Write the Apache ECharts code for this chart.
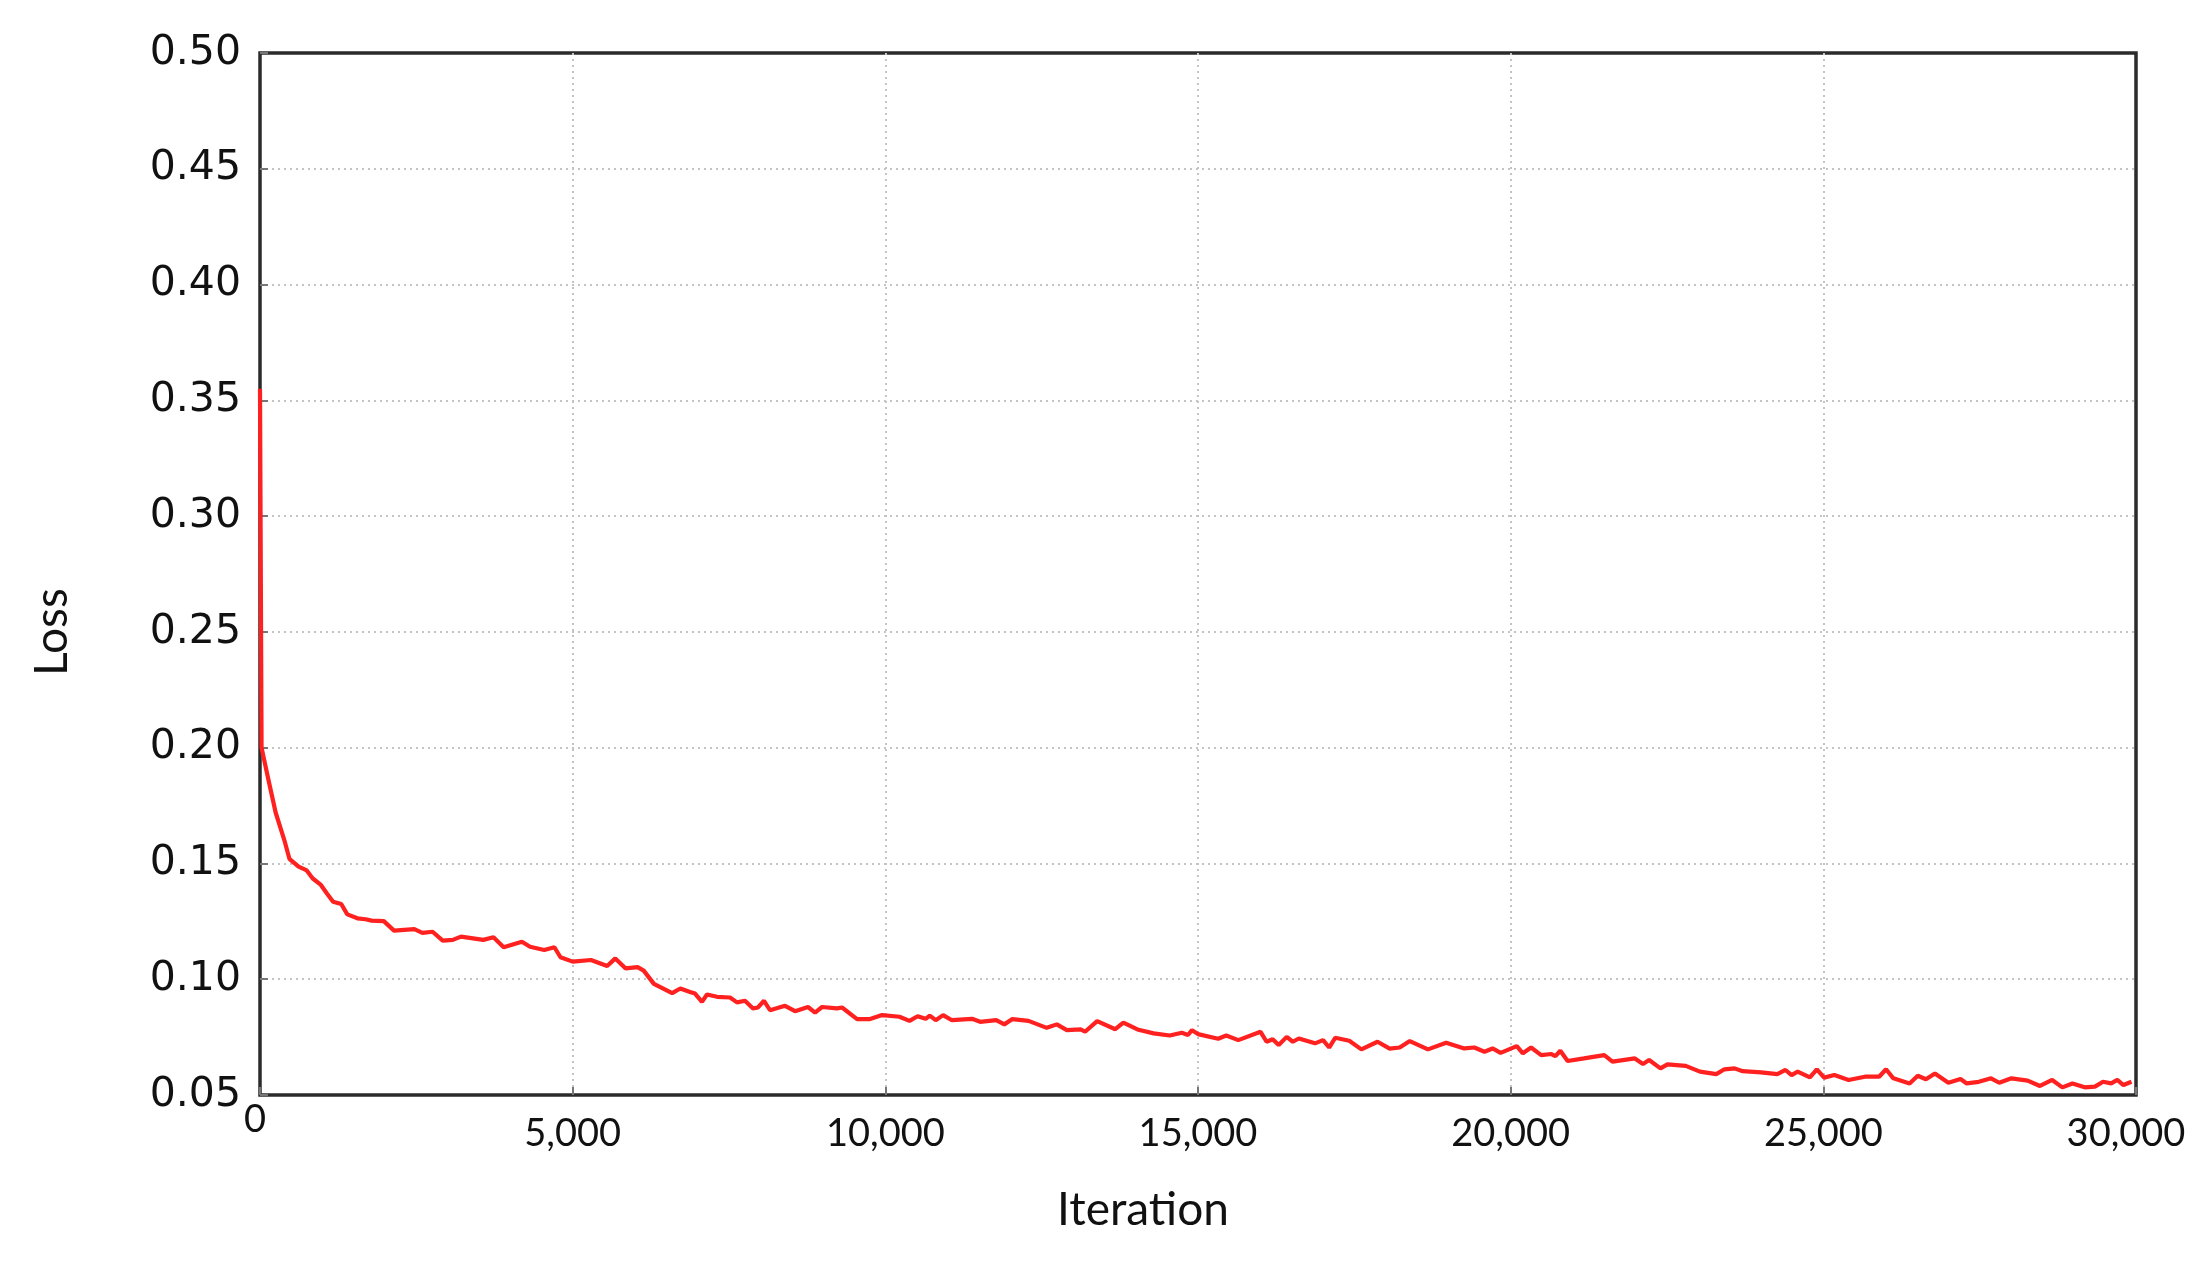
<!DOCTYPE html>
<html>
<head>
<meta charset="utf-8">
<title>Loss vs Iteration</title>
<script src="https://cdn.jsdelivr.net/npm/echarts@6/dist/echarts.min.js"></script>
<style>
  html, body { margin: 0; padding: 0; background: #fff; }
  #chart { width: 2201px; height: 1265px; }
</style>
</head>
<body>
<div id="chart"></div>
<script>
// values
const iterations = [
  0, 25, 120, 250, 390, 470, 617, 747, 844, 974,
  1070, 1169, 1299, 1396, 1558, 1688, 1785, 1980, 2143, 2468,
  2597, 2760, 2922, 3084, 3214, 3571, 3734, 3896, 4188, 4318,
  4545, 4708, 4805, 5000, 5292, 5552, 5682, 5844, 6039, 6136,
  6299, 6591, 6721, 6877, 6957, 7068, 7148, 7308, 7516, 7628,
  7756, 7884, 7964, 8060, 8156, 8396, 8556, 8764, 8876, 8988,
  9228, 9308, 9548, 9756, 9948, 10226, 10387, 10516, 10645, 10710,
  10806, 10923, 11065, 11387, 11516, 11774, 11903, 12032, 12290, 12581,
  12742, 12903, 13129, 13194, 13387, 13677, 13806, 14032, 14290, 14548,
  14742, 14839, 14903, 15000, 15323, 15452, 15645, 16000, 16097, 16194,
  16290, 16419, 16516, 16613, 16871, 17000, 17097, 17194, 17419, 17613,
  17871, 18065, 18226, 18387, 18677, 18968, 19258, 19419, 19581, 19710,
  19839, 20098, 20195, 20326, 20488, 20651, 20716, 20794, 20911, 21172,
  21497, 21628, 21986, 22116, 22214, 22396, 22507, 22800, 23027, 23288,
  23418, 23581, 23711, 24004, 24264, 24395, 24492, 24590, 24785, 24896,
  25013, 25176, 25404, 25664, 25892, 26003, 26120, 26380, 26510, 26641,
  26784, 27000, 27194, 27292, 27487, 27682, 27813, 28008, 28268, 28464,
  28659, 28822, 28984, 29180, 29343, 29473, 29603, 29701, 29798, 29928
];

const loss = [
  0.355, 0.200, 0.188, 0.172, 0.160, 0.152, 0.1486, 0.147, 0.1435, 0.1407,
  0.137, 0.1335, 0.1325, 0.128, 0.1263, 0.1259, 0.1253, 0.1251, 0.121, 0.1216,
  0.120, 0.1205, 0.1167, 0.117, 0.1184, 0.117, 0.1181, 0.1138, 0.1162, 0.114,
  0.1126, 0.1138, 0.1095, 0.1076, 0.1083, 0.1057, 0.109, 0.1047, 0.1052, 0.1037,
  0.098, 0.094, 0.096, 0.0945, 0.0938, 0.0902, 0.0934, 0.0924, 0.0921, 0.090,
  0.0907, 0.0874, 0.0878, 0.0907, 0.0866, 0.0885, 0.0862, 0.088, 0.0856, 0.088,
  0.0874, 0.0878, 0.0828, 0.0828, 0.0845, 0.0838, 0.082, 0.084, 0.0829, 0.0843,
  0.0823, 0.0845, 0.0823, 0.0829, 0.0816, 0.0823, 0.0805, 0.0828, 0.082, 0.079,
  0.0805, 0.078, 0.0783, 0.0773, 0.0819, 0.0784, 0.0813, 0.0783, 0.0766, 0.0757,
  0.0769, 0.0759, 0.078, 0.0763, 0.0743, 0.0757, 0.0737, 0.0773, 0.073, 0.0741,
  0.0716, 0.0751, 0.073, 0.0744, 0.0723, 0.0737, 0.0705, 0.0747, 0.0734, 0.0697,
  0.073, 0.070, 0.0705, 0.0733, 0.0697, 0.0726, 0.0701, 0.0705, 0.0687, 0.0701,
  0.0682, 0.0711, 0.068, 0.0705, 0.0672, 0.0677, 0.0668, 0.0691, 0.0647, 0.0658,
  0.0672, 0.0644, 0.0658, 0.0634, 0.0651, 0.0615, 0.0632, 0.0626, 0.0601, 0.059,
  0.0611, 0.0615, 0.0603, 0.0598, 0.059, 0.0608, 0.0586, 0.0601, 0.0576, 0.0611,
  0.0575, 0.0586, 0.0565, 0.0579, 0.0579, 0.0611, 0.0572, 0.055, 0.0583, 0.0568,
  0.0593, 0.0553, 0.0569, 0.055, 0.0557, 0.0572, 0.0553, 0.0572, 0.0562, 0.0539,
  0.0565, 0.0533, 0.055, 0.0533, 0.0536, 0.0557, 0.055, 0.0565, 0.0543, 0.0557
];

const xTicks = { min: 0, max: 30000, step: 5000 };
const yTicks = { min: 0.05, max: 0.5, step: 0.05 };

const chart = echarts.init(document.getElementById('chart'), null, { renderer: 'canvas' });

const points = iterations.map((it, i) => [it, loss[i]]);

const gridLine = {
  show: true,
  showMinLine: false,
  showMaxLine: false,
  lineStyle: { color: '#c4c4c4', width: 2, type: [2, 4] }
};

const option = {
  backgroundColor: '#ffffff',
  animation: false,
  grid: {
    left: 260,
    right: 65,
    top: 53,
    bottom: 170,
    containLabel: false,
    outerBoundsMode: 'none',
    show: true,
    borderColor: '#2b2b2b',
    borderWidth: 3.5,
    backgroundColor: 'transparent'
  },
  xAxis: {
    type: 'value',
    min: xTicks.min,
    max: xTicks.max,
    interval: xTicks.step,
    name: 'Iteration',
    nameLocation: 'middle',
    nameGap: 92,
    nameTextStyle: {
      fontFamily: 'Lato',
      fontSize: 46,
      color: '#111',
      padding: [0, 110, 0, 0]
    },
    axisLine: { show: false },
    axisTick: { show: true, inside: true, length: 8, lineStyle: { color: '#777', width: 2 } },
    splitLine: gridLine,
    axisLabel: {
      margin: 5,
      color: '#111',
      fontFamily: 'Lato',
      fontSize: 38,
      formatter: function (v) {
        if (v === 0) return '{z|0}';
        const s = v.toLocaleString('en-US');
        if (v === xTicks.max) return '{e|' + s + '}';
        return '{n|' + s + '}';
      },
      rich: {
        z: { fontFamily: 'Lato', fontSize: 38, color: '#111', lineHeight: 40, padding: [0, 10, 0, 0] },
        n: { fontFamily: 'Lato', fontSize: 38, color: '#111', lineHeight: 68 },
        e: { fontFamily: 'Lato', fontSize: 38, color: '#111', lineHeight: 68, padding: [0, 20, 0, 0] }
      }
    }
  },
  yAxis: {
    type: 'value',
    min: yTicks.min,
    max: yTicks.max,
    interval: yTicks.step,
    name: 'Loss',
    nameLocation: 'middle',
    nameGap: 185,
    nameTextStyle: {
      fontFamily: 'Lato',
      fontSize: 46,
      color: '#111',
      padding: [0, 116, 0, 0]
    },
    axisLine: { show: false },
    axisTick: { show: true, inside: true, length: 8, lineStyle: { color: '#777', width: 2 } },
    splitLine: gridLine,
    axisLabel: {
      margin: 19,
      color: '#111',
      fontFamily: 'DejaVu Sans',
      fontSize: 41,
      formatter: function (v) { return v.toFixed(2); }
    }
  },
  series: [
    {
      name: 'Loss',
      type: 'line',
      data: points,
      showSymbol: false,
      smooth: false,
      clip: true,
      lineStyle: { color: '#ff2020', width: 4.2 }
    }
  ]
};

chart.setOption(option);

window.addEventListener('resize', function () {
  chart.resize();
});
</script>
</body>
</html>
